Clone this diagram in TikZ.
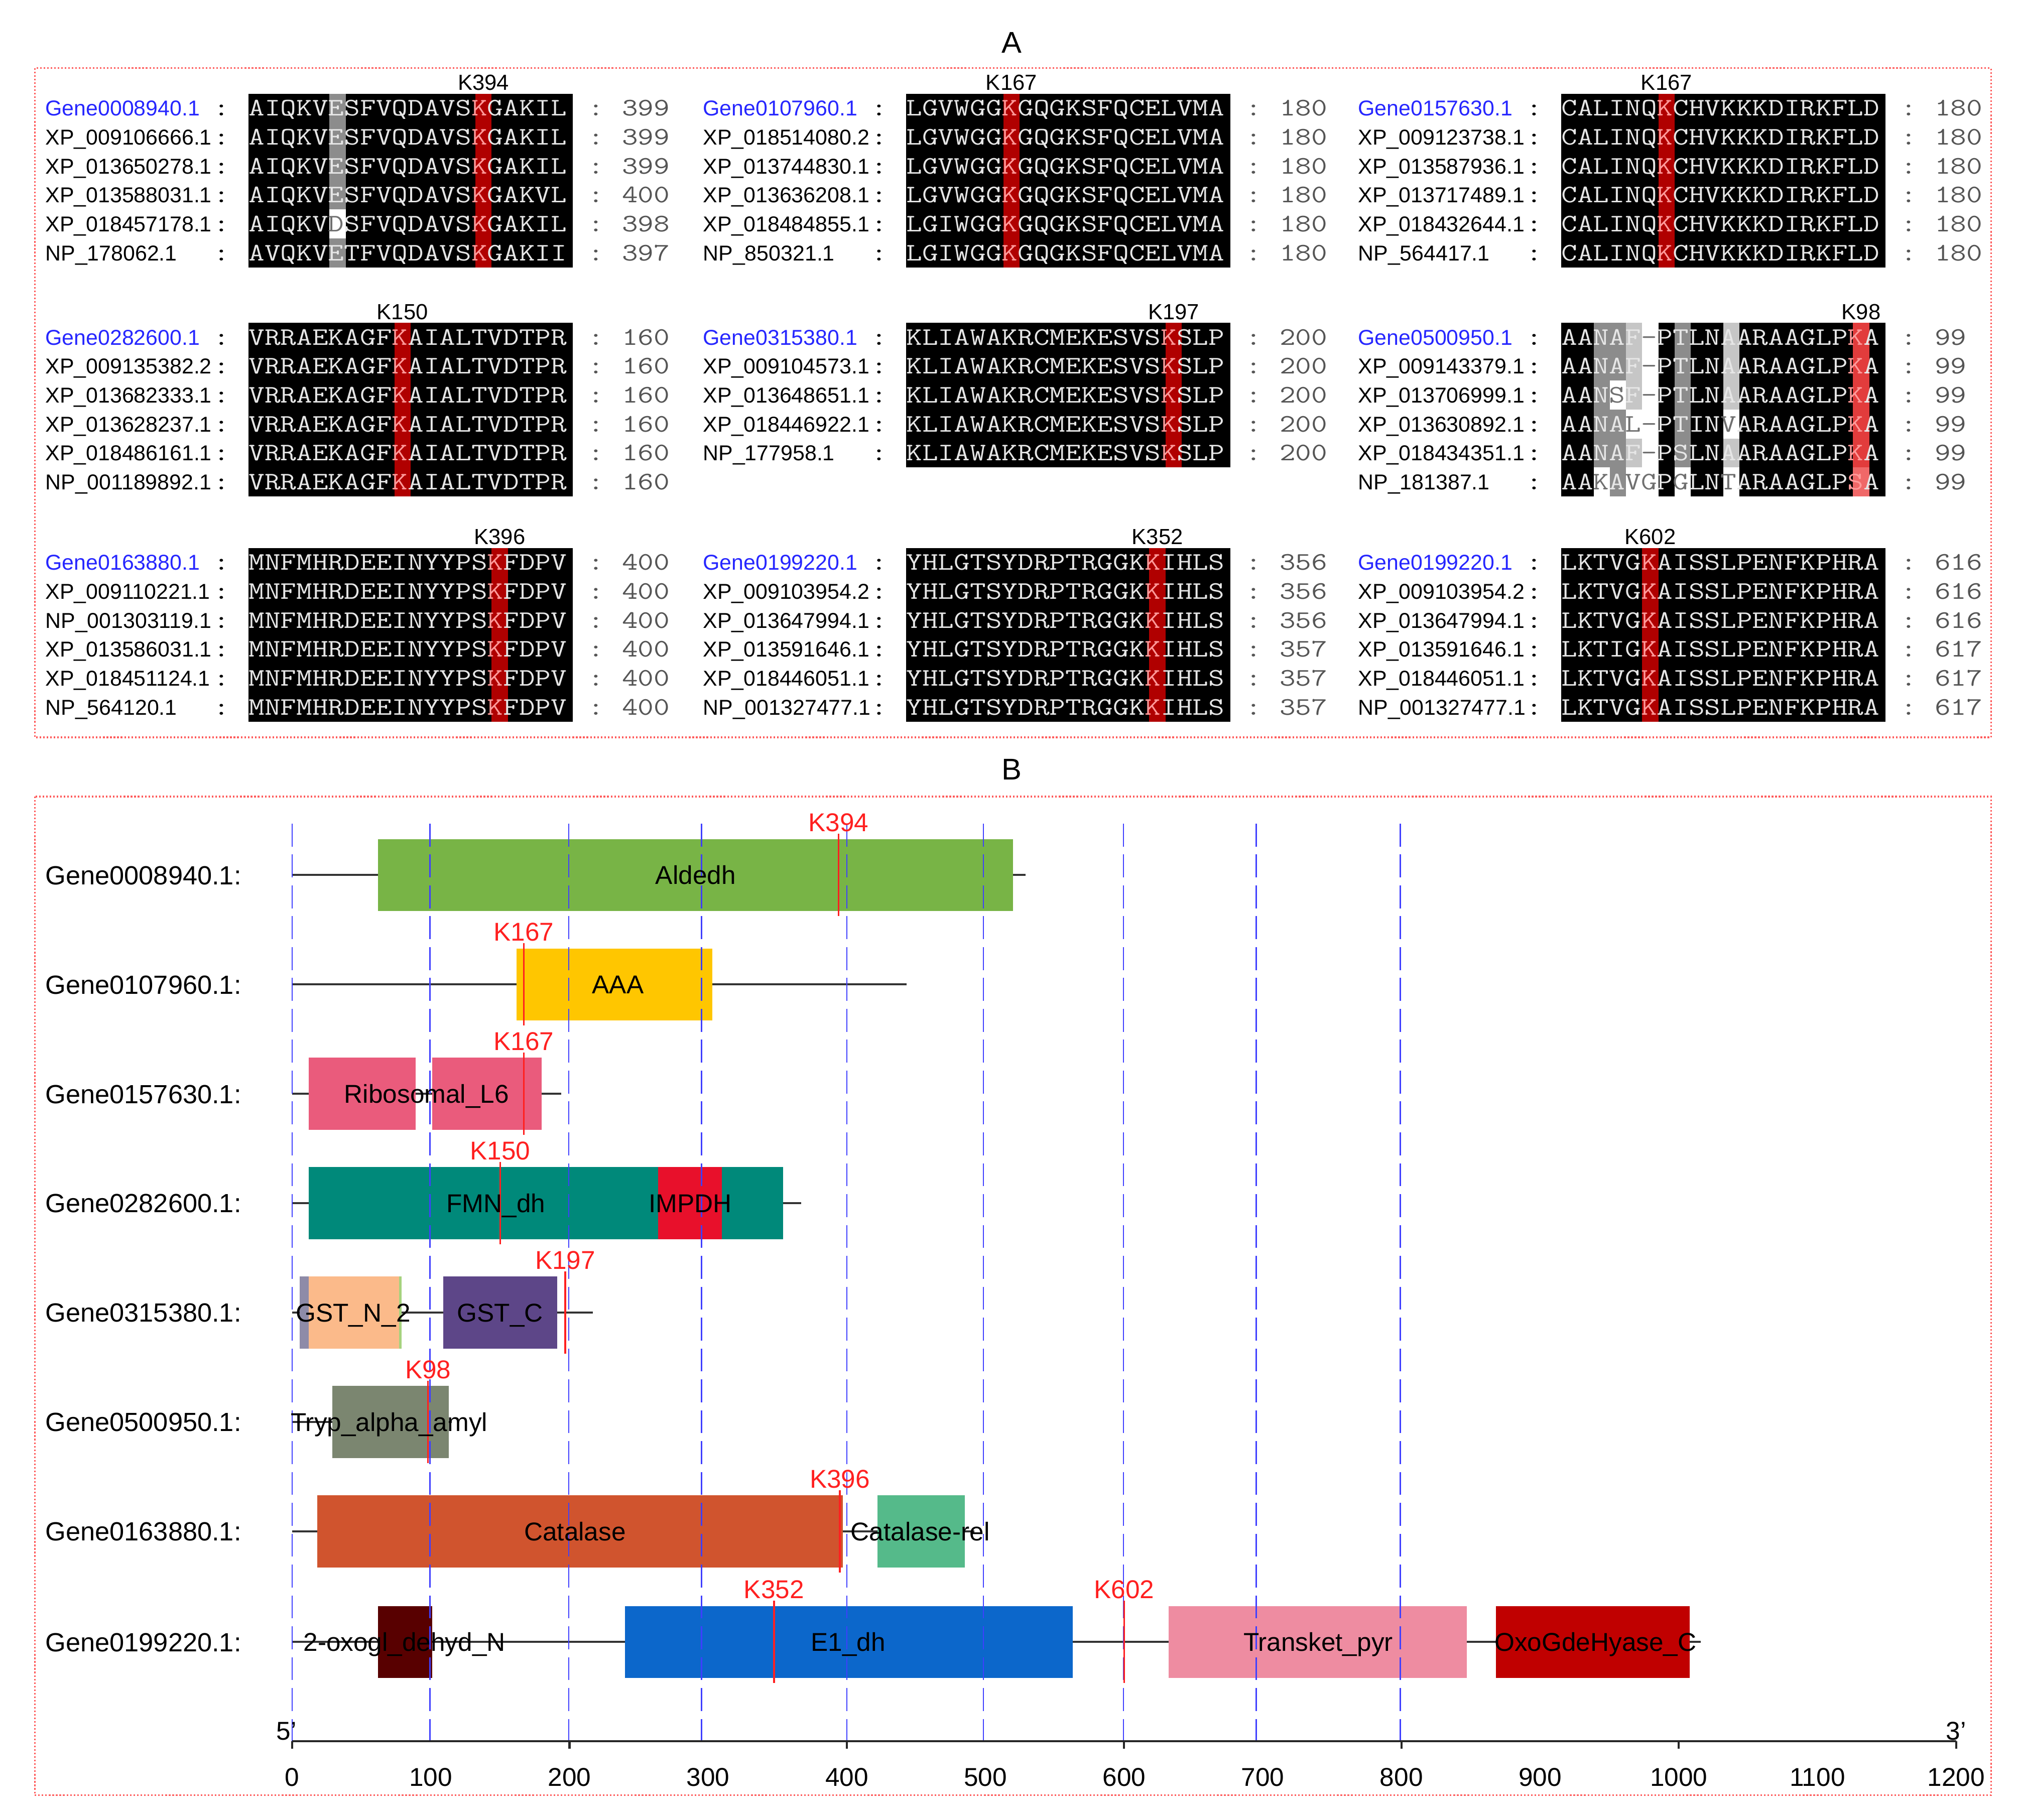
\documentclass[tikz,border=0pt]{standalone}
\usepackage{fontspec}
\setmainfont{Liberation Sans}
\usepackage{graphicx}
\definecolor{kred}{HTML}{B00000}
\definecolor{kredl}{HTML}{E23C3C}
\definecolor{kredll}{HTML}{F06868}
\definecolor{ktxt}{HTML}{FF9A9A}
\definecolor{seqfg}{HTML}{E6E6E6}
\definecolor{dgr}{HTML}{8C8C8C}
\definecolor{lgr}{HTML}{C6C6C6}
\definecolor{wtxc}{HTML}{707070}
\definecolor{gblue}{HTML}{2626FF}
\definecolor{numc}{HTML}{555555}
\definecolor{bordc}{HTML}{FF5A5A}
\definecolor{dashb}{HTML}{3F3FFF}
\definecolor{klinec}{HTML}{FF2020}
\definecolor{cald}{HTML}{78B446}
\definecolor{caaa}{HTML}{FFC600}
\definecolor{cribo}{HTML}{EA5B7C}
\definecolor{cfmn}{HTML}{00897A}
\definecolor{cimp}{HTML}{E8102B}
\definecolor{cgstg}{HTML}{8E8BA8}
\definecolor{cgstn}{HTML}{FBBA8A}
\definecolor{cgstl}{HTML}{A6D27E}
\definecolor{cgstc}{HTML}{5D4688}
\definecolor{ctryp}{HTML}{7B8670}
\definecolor{ccat}{HTML}{D0542E}
\definecolor{ccatr}{HTML}{55BA8A}
\definecolor{coxn}{HTML}{580000}
\definecolor{ce1}{HTML}{0C67CB}
\definecolor{ctrk}{HTML}{EE8CA1}
\definecolor{coxc}{HTML}{C00000}
\tikzset{
 lab/.style={font=\fontsize{12.2}{14}\selectfont, inner sep=0pt, anchor=west, text height=8.74pt, text depth=0pt},
 mono/.style={font=\ttfamily\fontsize{14.3}{16}\selectfont, inner sep=0pt, text height=8.74pt, text depth=0pt},
 seq/.style={mono, text=seqfg, anchor=west},
 klab/.style={font=\fontsize{12.4}{14}\selectfont, inner sep=0pt, text height=8.9pt, text depth=0pt},
 ttl/.style={font=\fontsize{17}{20}\selectfont, inner sep=0pt},
 bord/.style={draw=bordc, line width=0.9pt, dash pattern=on 0.9pt off 1.1pt},
 glab/.style={font=\fontsize{14.9}{17}\selectfont, inner sep=0pt, anchor=west, text height=10.7pt, text depth=0pt},
 dtext/.style={font=\fontsize{14.6}{17}\selectfont, inner sep=0pt, text height=10.4pt, text depth=0pt},
 klabB/.style={dtext, text=klinec},
 bb/.style={draw=black!80, line width=1.1pt},
 dashl/.style={draw=dashb, line width=0.7pt, dash pattern=on 13pt off 4.5pt},
 kmk/.style={draw=klinec, line width=1.0pt},
 axisl/.style={draw=black!85, line width=1.2pt},
}
\newcommand\seqf[1]{\scalebox{1.224}[1]{#1}}
\newcommand\rk[1]{\textcolor{ktxt}{#1}}
\newcommand\wtx[1]{\textcolor{wtxc}{#1}}
% #1 name, #2 y0, #3 nrows, #4 red idx, #5 K label
\newcommand\ablock[5]{%
  \fill[black] (193,{#2-11.25}) rectangle (445,{#2-11.25+#3*22.5});
  \fill[kred] ({193+#4*12.6},{#2-11.25}) rectangle ++(12.6,{#3*22.5});
  \node[klab] (#1k) at ({199.3+#4*12.6},{#2-20}) {#5};}
% #1 y0, #2 col, #3 row, #4 colour
\newcommand\acell[4]{\fill[#4] ({193+#2*12.6},{#1-11.25+#3*22.5}) rectangle ++(12.6,22.5);}
% #1 name, #2 y0, #3 row, #4 label, #5 seq, #6 number
\newcommand\arow[6]{%
  \node[lab] (#1l) at (35,{#2+#3*22.5}) {#4};
  \node[mono] (#1c) at (172,{#2+#3*22.5}) {\seqf{:}};
  \node[seq] (#1s) at (193,{#2+#3*22.5}) {\seqf{#5}};
  \node[mono,text=numc] (#1d) at (463,{#2+#3*22.5}) {\seqf{:}};
  \node[mono,text=numc,anchor=west] (#1n) at (483,{#2+#3*22.5}) {\seqf{#6}};}
% #1 v1, #2 v2, #3 yc, #4 colour
\newcommand\dom[4]{\fill[#4] (#1,{#3-28}) rectangle (#2,{#3+28});}
% #1 name, #2 v, #3 yc, #4 label
\newcommand\kmark[4]{%
  \draw[kmk] (#2,{#3-32}) -- (#2,{#3+32});
  \node[klabB] (#1) at (#2,{#3-41}) {#4};}
\begin{document}
\begin{tikzpicture}[x=0.025638cm,y=-0.025638cm]
\useasboundingbox (0,0) rectangle (1568,1414);
\fill[white] (0,0) rectangle (1568,1414);
\node[ttl] (tA) at (786,33) {A};
\node[ttl] (tB) at (786,598) {B};
\draw[bord] (27,53) rectangle (1547,573);
\draw[bord] (27,619) rectangle (1547,1395);

% ---------- Block 1
\ablock{a1}{84}{6}{14}{K394}
\foreach \r in {0,1,2,3,5} {\acell{84}{5}{\r}{dgr}}
\acell{84}{5}{4}{white}
\arow{a1r0}{84}{0}{\textcolor{gblue}{Gene0008940.1}}{AIQKVESFVQDAVS\rk{K}GAKIL}{399}
\arow{a1r1}{84}{1}{XP\_009106666.1}{AIQKVESFVQDAVS\rk{K}GAKIL}{399}
\arow{a1r2}{84}{2}{XP\_013650278.1}{AIQKVESFVQDAVS\rk{K}GAKIL}{399}
\arow{a1r3}{84}{3}{XP\_013588031.1}{AIQKVESFVQDAVS\rk{K}GAKVL}{400}
\arow{a1r4}{84}{4}{XP\_018457178.1}{AIQKV\wtx{D}SFVQDAVS\rk{K}GAKIL}{398}
\arow{a1r5}{84}{5}{NP\_178062.1}{AVQKVETFVQDAVS\rk{K}GAKII}{397}

% ---------- Block 2
\begin{scope}[shift={(511,0)}]
\ablock{a2}{84}{6}{6}{K167}
\arow{a2r0}{84}{0}{\textcolor{gblue}{Gene0107960.1}}{LGVWGG\rk{K}GQGKSFQCELVMA}{180}
\arow{a2r1}{84}{1}{XP\_018514080.2}{LGVWGG\rk{K}GQGKSFQCELVMA}{180}
\arow{a2r2}{84}{2}{XP\_013744830.1}{LGVWGG\rk{K}GQGKSFQCELVMA}{180}
\arow{a2r3}{84}{3}{XP\_013636208.1}{LGVWGG\rk{K}GQGKSFQCELVMA}{180}
\arow{a2r4}{84}{4}{XP\_018484855.1}{LGIWGG\rk{K}GQGKSFQCELVMA}{180}
\arow{a2r5}{84}{5}{NP\_850321.1}{LGIWGG\rk{K}GQGKSFQCELVMA}{180}
\end{scope}

% ---------- Block 3
\begin{scope}[shift={(1020,0)}]
\ablock{a3}{84}{6}{6}{K167}
\arow{a3r0}{84}{0}{\textcolor{gblue}{Gene0157630.1}}{CALINQ\rk{K}CHVKKKDIRKFLD}{180}
\arow{a3r1}{84}{1}{XP\_009123738.1}{CALINQ\rk{K}CHVKKKDIRKFLD}{180}
\arow{a3r2}{84}{2}{XP\_013587936.1}{CALINQ\rk{K}CHVKKKDIRKFLD}{180}
\arow{a3r3}{84}{3}{XP\_013717489.1}{CALINQ\rk{K}CHVKKKDIRKFLD}{180}
\arow{a3r4}{84}{4}{XP\_018432644.1}{CALINQ\rk{K}CHVKKKDIRKFLD}{180}
\arow{a3r5}{84}{5}{NP\_564417.1}{CALINQ\rk{K}CHVKKKDIRKFLD}{180}
\end{scope}

% ---------- Block 4
\ablock{a4}{262}{6}{9}{K150}
\arow{a4r0}{262}{0}{\textcolor{gblue}{Gene0282600.1}}{VRRAEKAGF\rk{K}AIALTVDTPR}{160}
\arow{a4r1}{262}{1}{XP\_009135382.2}{VRRAEKAGF\rk{K}AIALTVDTPR}{160}
\arow{a4r2}{262}{2}{XP\_013682333.1}{VRRAEKAGF\rk{K}AIALTVDTPR}{160}
\arow{a4r3}{262}{3}{XP\_013628237.1}{VRRAEKAGF\rk{K}AIALTVDTPR}{160}
\arow{a4r4}{262}{4}{XP\_018486161.1}{VRRAEKAGF\rk{K}AIALTVDTPR}{160}
\arow{a4r5}{262}{5}{NP\_001189892.1}{VRRAEKAGF\rk{K}AIALTVDTPR}{160}

% ---------- Block 5
\begin{scope}[shift={(511,0)}]
\ablock{a5}{262}{5}{16}{K197}
\arow{a5r0}{262}{0}{\textcolor{gblue}{Gene0315380.1}}{KLIAWAKRCMEKESVS\rk{K}SLP}{200}
\arow{a5r1}{262}{1}{XP\_009104573.1}{KLIAWAKRCMEKESVS\rk{K}SLP}{200}
\arow{a5r2}{262}{2}{XP\_013648651.1}{KLIAWAKRCMEKESVS\rk{K}SLP}{200}
\arow{a5r3}{262}{3}{XP\_018446922.1}{KLIAWAKRCMEKESVS\rk{K}SLP}{200}
\arow{a5r4}{262}{4}{NP\_177958.1}{KLIAWAKRCMEKESVS\rk{K}SLP}{200}
\end{scope}

% ---------- Block 6
\begin{scope}[shift={(1020,0)}]
\ablock{a6}{262}{6}{18}{K98}
\foreach \r in {0,...,4} {\acell{262}{18}{\r}{kredl}}
\acell{262}{18}{5}{kredll}
\foreach \r in {0,...,4} {\acell{262}{2}{\r}{dgr}}
\foreach \r in {0,1,3,4,5} {\acell{262}{3}{\r}{dgr}}
\foreach \r in {0,...,4} {\acell{262}{7}{\r}{dgr}}
\foreach \r in {0,1,2,4} {\acell{262}{4}{\r}{lgr}\acell{262}{10}{\r}{lgr}}
\foreach \r in {0,...,5} {\acell{262}{5}{\r}{white}}
\acell{262}{2}{5}{white}\acell{262}{3}{2}{white}
\acell{262}{4}{3}{white}\acell{262}{4}{5}{white}
\acell{262}{7}{5}{white}
\acell{262}{10}{3}{white}\acell{262}{10}{5}{white}
\arow{a6r0}{262}{0}{\textcolor{gblue}{Gene0500950.1}}{AANAF\wtx{-}PTLNAARAAGLP\rk{K}A}{99}
\arow{a6r1}{262}{1}{XP\_009143379.1}{AANAF\wtx{-}PTLNAARAAGLP\rk{K}A}{99}
\arow{a6r2}{262}{2}{XP\_013706999.1}{AAN\wtx{S}F\wtx{-}PTLNAARAAGLP\rk{K}A}{99}
\arow{a6r3}{262}{3}{XP\_013630892.1}{AANA\wtx{L}\wtx{-}PTIN\wtx{V}ARAAGLP\rk{K}A}{99}
\arow{a6r4}{262}{4}{XP\_018434351.1}{AANAF\wtx{-}PSLNAARAAGLP\rk{K}A}{99}
\arow{a6r5}{262}{5}{NP\_181387.1}{AA\wtx{K}A\wtx{VG}P\wtx{G}LN\wtx{T}ARAAGLP\rk{S}A}{99}
\end{scope}

% ---------- Block 7
\ablock{a7}{437}{6}{15}{K396}
\arow{a7r0}{437}{0}{\textcolor{gblue}{Gene0163880.1}}{MNFMHRDEEINYYPS\rk{K}FDPV}{400}
\arow{a7r1}{437}{1}{XP\_009110221.1}{MNFMHRDEEINYYPS\rk{K}FDPV}{400}
\arow{a7r2}{437}{2}{NP\_001303119.1}{MNFMHRDEEINYYPS\rk{K}FDPV}{400}
\arow{a7r3}{437}{3}{XP\_013586031.1}{MNFMHRDEEINYYPS\rk{K}FDPV}{400}
\arow{a7r4}{437}{4}{XP\_018451124.1}{MNFMHRDEEINYYPS\rk{K}FDPV}{400}
\arow{a7r5}{437}{5}{NP\_564120.1}{MNFMHRDEEINYYPS\rk{K}FDPV}{400}

% ---------- Block 8
\begin{scope}[shift={(511,0)}]
\ablock{a8}{437}{6}{15}{K352}
\arow{a8r0}{437}{0}{\textcolor{gblue}{Gene0199220.1}}{YHLGTSYDRPTRGGK\rk{K}IHLS}{356}
\arow{a8r1}{437}{1}{XP\_009103954.2}{YHLGTSYDRPTRGGK\rk{K}IHLS}{356}
\arow{a8r2}{437}{2}{XP\_013647994.1}{YHLGTSYDRPTRGGK\rk{K}IHLS}{356}
\arow{a8r3}{437}{3}{XP\_013591646.1}{YHLGTSYDRPTRGGK\rk{K}IHLS}{357}
\arow{a8r4}{437}{4}{XP\_018446051.1}{YHLGTSYDRPTRGGK\rk{K}IHLS}{357}
\arow{a8r5}{437}{5}{NP\_001327477.1}{YHLGTSYDRPTRGGK\rk{K}IHLS}{357}
\end{scope}

% ---------- Block 9
\begin{scope}[shift={(1020,0)}]
\ablock{a9}{437}{6}{5}{K602}
\arow{a9r0}{437}{0}{\textcolor{gblue}{Gene0199220.1}}{LKTVG\rk{K}AISSLPENFKPHRA}{616}
\arow{a9r1}{437}{1}{XP\_009103954.2}{LKTVG\rk{K}AISSLPENFKPHRA}{616}
\arow{a9r2}{437}{2}{XP\_013647994.1}{LKTVG\rk{K}AISSLPENFKPHRA}{616}
\arow{a9r3}{437}{3}{XP\_013591646.1}{LKTIG\rk{K}AISSLPENFKPHRA}{617}
\arow{a9r4}{437}{4}{XP\_018446051.1}{LKTVG\rk{K}AISSLPENFKPHRA}{617}
\arow{a9r5}{437}{5}{NP\_001327477.1}{LKTVG\rk{K}AISSLPENFKPHRA}{617}
\end{scope}

% ================= Panel B
\node[glab] (g1) at (35,680) {Gene0008940.1:};
\node[glab] (g2) at (35,765) {Gene0107960.1:};
\node[glab] (g3) at (35,850) {Gene0157630.1:};
\node[glab] (g4) at (35,935) {Gene0282600.1:};
\node[glab] (g5) at (35,1020) {Gene0315380.1:};
\node[glab] (g6) at (35,1105) {Gene0500950.1:};
\node[glab] (g7) at (35,1190) {Gene0163880.1:};
\node[glab] (g8) at (35,1276) {Gene0199220.1:};

\begin{scope}[shift={(227,0)},x=0.027625cm]
\draw[bb] (0,680) -- (529,680);
\draw[bb] (0,765) -- (443,765);
\draw[bb] (0,850) -- (194,850);
\draw[bb] (0,935) -- (367,935);
\draw[bb] (0,1020) -- (217,1020);
\draw[bb] (0,1105) -- (115,1105);
\draw[bb] (0,1190) -- (492,1190);
\draw[bb] (0,1276) -- (1016,1276);
\dom{62}{520}{680}{cald}
\dom{162}{303}{765}{caaa}
\dom{12}{89}{850}{cribo}
\dom{101}{180}{850}{cribo}
\dom{12}{354}{935}{cfmn}
\dom{264}{310}{935}{cimp}
\dom{5.5}{12}{1020}{cgstg}
\dom{12}{77}{1020}{cgstn}
\dom{77}{79}{1020}{cgstl}
\dom{109}{191}{1020}{cgstc}
\dom{29}{113}{1105}{ctryp}
\dom{18}{397}{1190}{ccat}
\dom{422}{485}{1190}{ccatr}
\dom{62}{101}{1276}{coxn}
\dom{240}{563}{1276}{ce1}
\dom{632}{847}{1276}{ctrk}
\dom{868}{1008}{1276}{coxc}
\end{scope}
% dashed grid lines at the reference's pixel positions
\foreach \xx in {227,334,442,545,658,764,873,976,1088} {\draw[dashl] (\xx,640) -- (\xx,1353);}
\begin{scope}[shift={(227,0)},x=0.027625cm]
\kmark{m1}{394}{680}{K394}
\kmark{m2}{167}{765}{K167}
\kmark{m3}{167}{850}{K167}
\kmark{m4}{150}{935}{K150}
\kmark{m5}{197}{1020}{K197}
\kmark{m6}{98}{1105}{K98}
\kmark{m7}{395}{1190}{K396}
\kmark{m8}{347.5}{1276}{K352}
\kmark{m9}{600}{1276}{K602}
\node[dtext] (d1) at (291,680) {Aldedh};
\node[dtext] (d2) at (235,765) {AAA};
\node[dtext] (d3) at (97,850) {Ribosomal\_L6};
\node[dtext] (d4) at (147,935) {FMN\_dh};
\node[dtext] (d5) at (287,935) {IMPDH};
\node[dtext] (d6) at (44,1020) {GST\_N\_2};
\node[dtext] (d7) at (150,1020) {GST\_C};
\node[dtext] (d8) at (70,1105) {Tryp\_alpha\_amyl};
\node[dtext] (d9) at (204,1190) {Catalase};
\node[dtext] (d10) at (453,1190) {Catalase-rel};
\node[dtext] (d11) at (81,1276) {2-oxogl\_dehyd\_N};
\node[dtext] (d12) at (401,1276) {E1\_dh};
\node[dtext] (d13) at (740,1276) {Transket\_pyr};
\node[dtext] (d14) at (940,1276) {OxoGdeHyase\_C};
\draw[axisl] (0,1353) -- (1200,1353);
\foreach \v in {0,200,...,1200} {\draw[axisl] (\v,1353) -- (\v,1359);}
\foreach \v in {0,100,...,1200} {\node[dtext] (ax\v) at (\v,1381) {\v};}
\node[dtext] (p5) at (-4,1345) {5’};
\node[dtext] (p3) at (1200,1345) {3’};
\end{scope}
\end{tikzpicture}
\end{document}
